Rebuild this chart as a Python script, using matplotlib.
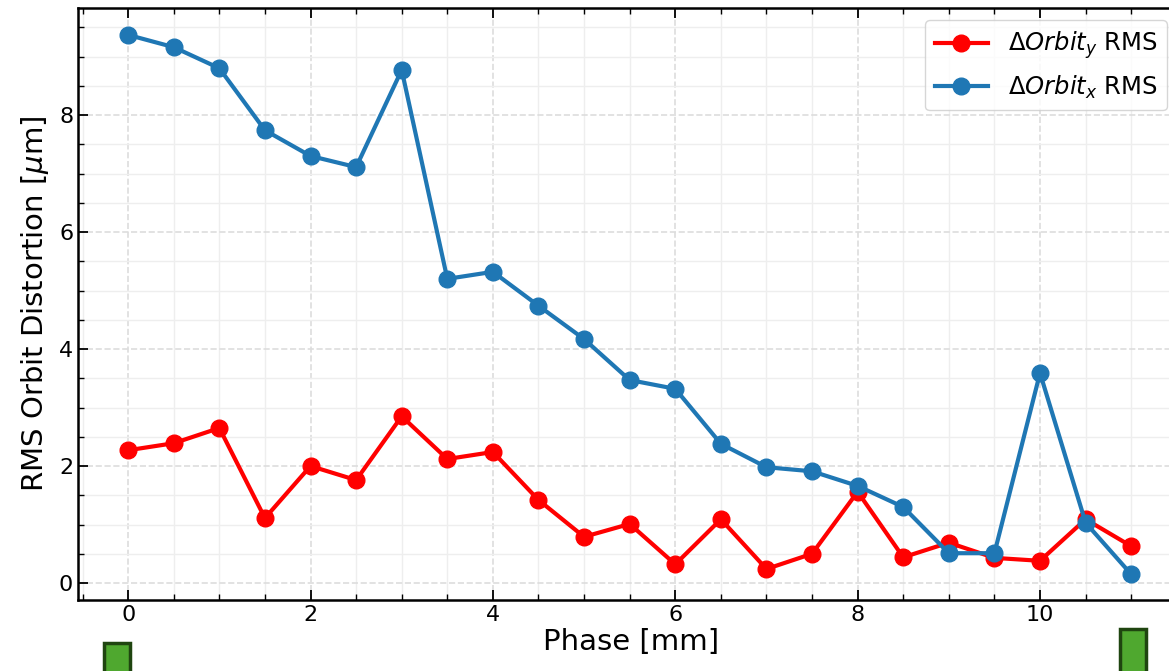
import numpy as np
import matplotlib
matplotlib.use("Agg")
import matplotlib.pyplot as plt
from matplotlib.patches import Rectangle
from matplotlib.ticker import MultipleLocator

phase = [0, 0.5, 1, 1.5, 2, 2.5, 3, 3.5, 4, 4.5, 5, 5.5, 6, 6.5, 7, 7.5,
         8, 8.5, 9, 9.5, 10, 10.5, 11]
orbit_y = [2.27, 2.39, 2.65, 1.11, 2.00, 1.76, 2.85, 2.12, 2.24, 1.42, 0.79,
           1.01, 0.32, 1.09, 0.24, 0.50, 1.56, 0.44, 0.69, 0.43, 0.38, 1.09, 0.63]
orbit_x = [9.37, 9.16, 8.80, 7.74, 7.30, 7.11, 8.77, 5.20, 5.32, 4.74, 4.17,
           3.47, 3.32, 2.38, 1.98, 1.91, 1.66, 1.30, 0.51, 0.51, 3.59, 1.03, 0.15]

fig = plt.figure(figsize=(11.69, 6.71), dpi=100)
# axes runs a little past the right edge of the image, like the reference
ax = fig.add_axes([78 / 1169, 71 / 671, 1107 / 1169, 592 / 671])

ax.plot(phase, orbit_y, '-o', color='red', lw=3, ms=12,
        label=r'$\Delta Orbit_y$ RMS')
ax.plot(phase, orbit_x, '-o', color='#1f77b4', lw=3, ms=12,
        label=r'$\Delta Orbit_x$ RMS')

ax.set_xlim(-0.55, 11.59)
ax.set_ylim(-0.29, 9.83)
ax.xaxis.set_major_locator(MultipleLocator(2))
ax.xaxis.set_minor_locator(MultipleLocator(0.5))
ax.yaxis.set_major_locator(MultipleLocator(2))
ax.yaxis.set_minor_locator(MultipleLocator(0.5))

ax.grid(which='major', ls='--', color='#dddddd', lw=1.2)
ax.grid(which='minor', ls='-', color='#eeeeee', lw=1.0)
ax.set_axisbelow(True)

ax.tick_params(which='both', direction='in', top=True, right=True, labelsize=16)
ax.tick_params(which='major', length=7, width=1.3)
ax.tick_params(which='minor', length=4, width=1.0)
for s in ax.spines.values():
    s.set_linewidth(1.8)

ax.set_xlabel('Phase [mm]', fontsize=21, labelpad=2)
ax.set_ylabel(r'RMS Orbit Distortion [$\mu$m]', fontsize=21, labelpad=6)

leg = ax.legend(loc='upper right', fontsize=17.5, handlelength=2.2,
                borderaxespad=0, handletextpad=0.8,
                bbox_to_anchor=(1167 / 1169, 651 / 671),
                bbox_transform=fig.transFigure)

# small green markers below the axis
fig.add_artist(Rectangle((104, -10), 26, 38, transform=None,
                         facecolor='#4fa82f', edgecolor='#1f4510', lw=2.5))
fig.add_artist(Rectangle((1120, -10), 26, 52, transform=None,
                         facecolor='#4fa82f', edgecolor='#1f4510', lw=2.5))

fig.savefig('out.png', dpi=100)
